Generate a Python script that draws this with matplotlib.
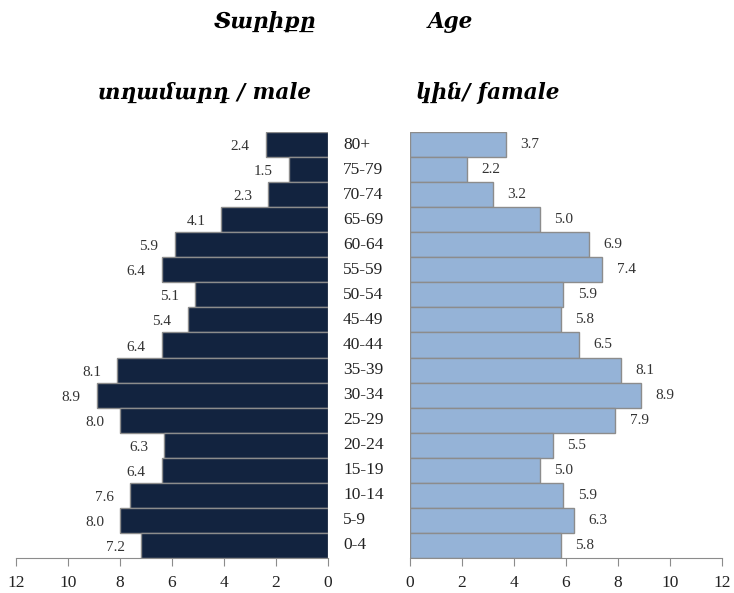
import matplotlib
matplotlib.use("Agg")
import matplotlib.pyplot as plt
from matplotlib.transforms import blended_transform_factory

ages = ["80+", "75-79", "70-74", "65-69", "60-64", "55-59", "50-54", "45-49",
        "40-44", "35-39", "30-34", "25-29", "20-24", "15-19", "10-14", "5-9", "0-4"]
male = [2.4, 1.5, 2.3, 4.1, 5.9, 6.4, 5.1, 5.4, 6.4, 8.1, 8.9, 8.0, 6.3, 6.4, 7.6, 8.0, 7.2]
female = [3.7, 2.2, 3.2, 5.0, 6.9, 7.4, 5.9, 5.8, 6.5, 8.1, 8.9, 7.9, 5.5, 5.0, 5.9, 6.3, 5.8]
xticks = [0, 2, 4, 6, 8, 10, 12]

serif = ["Liberation Serif", "DejaVu Serif"]
title_font = ["DejaVu Serif", "DejaVu Sans"]

fig = plt.figure(figsize=(7.34, 5.93), dpi=100)
W, H = 734, 593
bottom = 1 - 558 / H
height = (558 - 132) / H
axL = fig.add_axes([16 / W, bottom, 312 / W, height])
axR = fig.add_axes([410 / W, bottom, 312 / W, height])

ypos = list(range(len(ages)))
gray = "#8c8c8c"

axL.barh(ypos, male, height=1.0, color="#12233f", edgecolor=gray, linewidth=1)
axR.barh(ypos, female, height=1.0, color="#95b3d7", edgecolor=gray, linewidth=1)

for ax in (axL, axR):
    ax.set_xlim(0, 12)
    ax.set_ylim(len(ages) - 0.5, -0.5)
    ax.set_xticks(xticks)
    ax.set_yticks([])
    for s in ("top", "left", "right"):
        ax.spines[s].set_visible(False)
    ax.spines["bottom"].set_color(gray)
    ax.tick_params(axis="x", direction="out", length=6, color=gray,
                   labelsize=12.5, labelcolor="#222222", pad=6)
    for lab in ax.get_xticklabels():
        lab.set_fontfamily(serif)

axL.invert_xaxis()

for y, v in zip(ypos, male):
    axL.text(v + 0.62, y + 0.08, f"{v:.1f}", ha="right", va="center", fontsize=11,
             color="#333333", family=serif)
for y, v in zip(ypos, female):
    axR.text(v + 0.55, y, f"{v:.1f}", ha="left", va="center", fontsize=11,
             color="#333333", family=serif)

tr = blended_transform_factory(axL.transAxes, axL.transData)
for y, a in zip(ypos, ages):
    axL.text(1.048, y, a, ha="left", va="center", fontsize=12.5,
             color="#222222", family=serif, transform=tr)

fig.text(265 / W, 1 - 22 / H, "Տարիքը", ha="center", va="center", fontsize=15.5,
         style="italic", weight="bold", family=title_font)
fig.text(450 / W, 1 - 22 / H, "Age", ha="center", va="center", fontsize=15.5,
         style="italic", weight="bold", family=title_font)
fig.text(205 / W, 1 - 93 / H, "տղամարդ / male", ha="center", va="center", fontsize=15.5,
         style="italic", weight="bold", family=title_font)
fig.text(488 / W, 1 - 93 / H, "կին/ famale", ha="center", va="center", fontsize=15.5,
         style="italic", weight="bold", family=title_font)

fig.savefig("out.png", dpi=100)
